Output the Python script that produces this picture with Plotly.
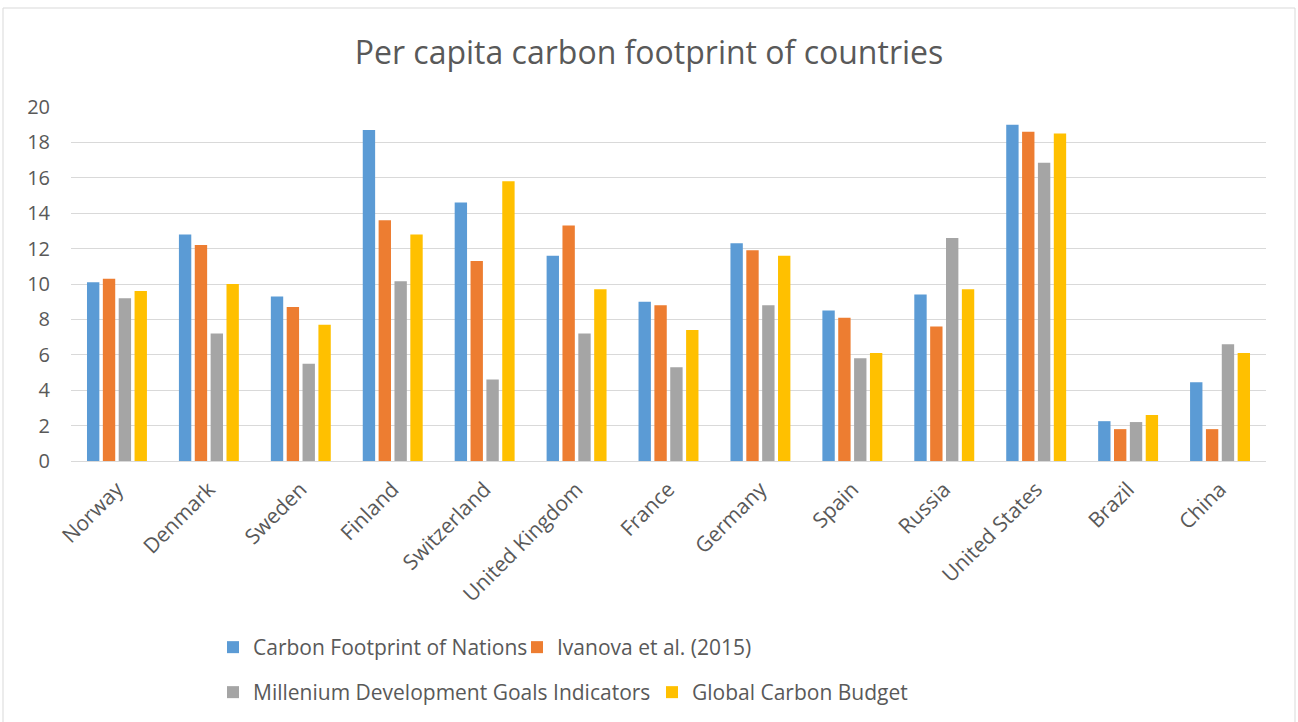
import plotly.graph_objects as go

countries = ["Norway", "Denmark", "Sweden", "Finland", "Switzerland", "United Kingdom",
             "France", "Germany", "Spain", "Russia", "United States", "Brazil", "China"]
cfn = [10.1, 12.8, 9.3, 18.7, 14.6, 11.6, 9.0, 12.3, 8.5, 9.4, 19.0, 2.25, 4.45]
ivanova = [10.3, 12.2, 8.7, 13.6, 11.3, 13.3, 8.8, 11.9, 8.1, 7.6, 18.6, 1.8, 1.8]
mdg = [9.2, 7.2, 5.5, 10.15, 4.6, 7.2, 5.3, 8.8, 5.8, 12.6, 16.85, 2.2, 6.6]
gcb = [9.6, 10.0, 7.7, 12.8, 15.8, 9.7, 7.4, 11.6, 6.1, 9.7, 18.5, 2.6, 6.1]

series_names = ["Carbon Footprint of Nations", "Ivanova et al. (2015)",
                "Millenium Development Goals Indicators", "Global Carbon Budget"]
series_vals = [cfn, ivanova, mdg, gcb]
colors = ["#5B9BD5", "#ED7D31", "#A5A5A5", "#FFC000"]
legend_ids = ["legend", "legend", "legend2", "legend2"]

FONT = "Open Sans"
fig = go.Figure()
for name, vals, c, lg in zip(series_names, series_vals, colors, legend_ids):
    fig.add_trace(go.Bar(x=countries, y=vals, name=name, marker_color=c,
                         marker_line_width=0, legend=lg))

W, H = 1298, 722
L, R, T, B = 71, 32, 107, 261
leg_common = dict(orientation="h", xref="container", yref="container",
                  x=213 / W, xanchor="left", yanchor="top",
                  entrywidthmode="pixels",
                  font=dict(family=FONT, size=21, color="#595959"),
                  traceorder="normal", bgcolor="rgba(0,0,0,0)")
fig.update_layout(
    width=W, height=H,
    margin=dict(l=L, r=R, t=T, b=B),
    paper_bgcolor="white", plot_bgcolor="white",
    barmode="group", bargap=0.31, bargroupgap=0.22,
    title=dict(text="Per capita carbon footprint of countries",
               x=0.5, xref="container", xanchor="center",
               y=1 - 53 / H, yref="container", yanchor="middle",
               font=dict(family=FONT, size=32, color="#595959")),
    font=dict(family=FONT, color="#595959"),
    xaxis=dict(tickangle=-45, tickfont=dict(size=21, color="#595959"),
               showgrid=False, showline=False, ticks="", ticklabelstandoff=11),
    yaxis=dict(range=[0, 20], dtick=2, tickfont=dict(size=20, color="#595959"),
               gridcolor="#D9D9D9", gridwidth=1, zeroline=True,
               zerolinecolor="#D9D9D9", zerolinewidth=1, ticks="",
               showline=False, ticklabelstandoff=20),
    legend=dict(y=1 - 627 / H, entrywidth=259, **leg_common),
    legend2=dict(y=1 - 672 / H, entrywidth=394, **leg_common),
)

pw = W - L - R
ph = H - T - B
fig.add_shape(type="rect", xref="paper", yref="paper",
              x0=(3 - L) / pw, x1=(1295 - L) / pw,
              y0=(H - B - 730) / ph, y1=(H - B - 8) / ph,
              line=dict(color="#D9D9D9", width=1), layer="below")

fig.write_html("out.html")
